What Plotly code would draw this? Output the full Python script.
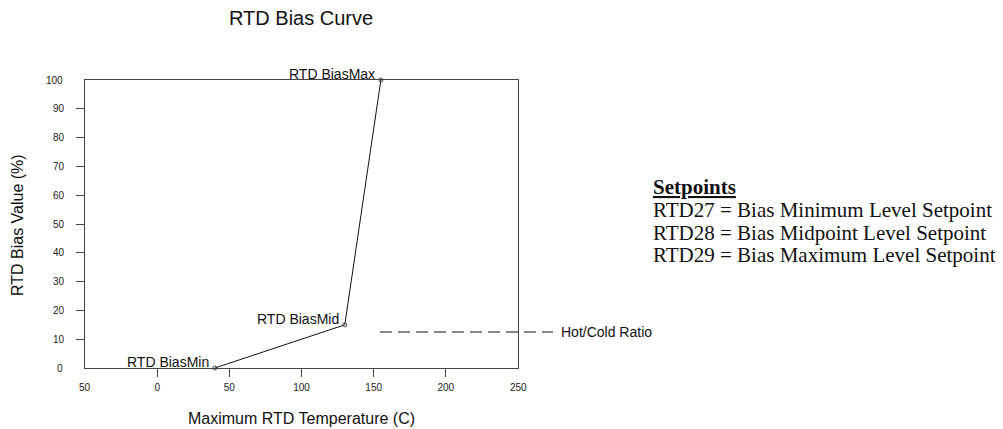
import plotly.graph_objects as go

# Data
temps = [40, 130, 155]
bias = [0, 15, 100]
point_labels = ["RTD BiasMin", "RTD BiasMid", "RTD BiasMax"]
hot_cold_ratio = 12.5
x_tickvals = [0, 50, 100, 150, 200]
x_ticktext = ["0", "50", "100", "150", "200"]
y_tickvals = [10, 20, 30, 40, 50, 60, 70, 80, 90]
setpoint_title = "Setpoints"
setpoint_lines = [
    "RTD27 = Bias Minimum Level Setpoint",
    "RTD28 = Bias Midpoint Level Setpoint",
    "RTD29 = Bias Maximum Level Setpoint",
]

OFF = 8  # default page body margin
W, H = 1003 - OFF, 429 - OFF
# plot area in page pixels
L, R, T, B = 85, 518, 80, 368

SANS = "Liberation Sans, Arial"
SERIF = "Liberation Serif, Times New Roman"

fig = go.Figure()
fig.add_trace(go.Scatter(
    x=temps, y=bias, mode="lines+markers",
    line=dict(color="#111", width=1),
    marker=dict(symbol="circle-open", size=4, color="#444", line=dict(width=1)),
    cliponaxis=False, showlegend=False,
))

def px_x(p):
    return (p - L) / (R - L)

def px_y(p):
    return (B - p) / (B - T)

annotations = []
# point labels
for xv, yv, lab in zip(temps, bias, point_labels):
    annotations.append(dict(x=xv, y=yv, xref="x", yref="y", text=lab, showarrow=False,
                            xanchor="right", yanchor="middle", xshift=-4, yshift=6,
                            font=dict(family=SANS, size=14, color="#111")))
# end tick labels without tick marks
for xv, txt in [(-50, "50"), (250, "250")]:
    annotations.append(dict(x=xv, y=0, xref="x", yref="paper", text=txt, showarrow=False,
                            xanchor="center", yanchor="middle", yshift=-19,
                            font=dict(family=SANS, size=10, color="#222")))
for yv, txt in [(0, "0"), (100, "100")]:
    annotations.append(dict(x=px_x(65), y=yv, xref="paper", yref="y", text=txt, showarrow=False,
                            xanchor="right", yanchor="middle",
                            font=dict(family=SANS, size=10, color="#222")))
# title
annotations.append(dict(x=px_x(301), y=px_y(18), xref="paper", yref="paper", text="RTD Bias Curve",
                        showarrow=False, xanchor="center", yanchor="middle",
                        font=dict(family=SANS, size=20, color="#111")))
# axis titles
annotations.append(dict(x=px_x(301), y=px_y(418), xref="paper", yref="paper",
                        text="Maximum RTD Temperature (C)", showarrow=False,
                        xanchor="center", yanchor="middle",
                        font=dict(family=SANS, size=16, color="#111")))
annotations.append(dict(x=px_x(17), y=px_y(225), xref="paper", yref="paper",
                        text="RTD Bias Value (%)", showarrow=False, textangle=-90,
                        xanchor="center", yanchor="middle",
                        font=dict(family=SANS, size=16, color="#111")))
# hot/cold label
annotations.append(dict(x=px_x(559), y=hot_cold_ratio, xref="paper", yref="y",
                        text="Hot/Cold Ratio", showarrow=False, xanchor="left", yanchor="middle",
                        font=dict(family=SANS, size=14, color="#111")))
# setpoints block
annotations.append(dict(x=px_x(651), y=px_y(187), xref="paper", yref="paper",
                        text="<b><u>" + setpoint_title + "</u></b>", showarrow=False,
                        xanchor="left", yanchor="middle",
                        font=dict(family=SERIF, size=21, color="#111")))
for i, line in enumerate(setpoint_lines):
    annotations.append(dict(x=px_x(651), y=px_y(210 + 22.5 * i), xref="paper", yref="paper",
                            text=line, showarrow=False, xanchor="left", yanchor="middle",
                            font=dict(family=SERIF, size=21, color="#111")))

shapes = [dict(type="line", xref="paper", yref="y", x0=px_x(380), x1=px_x(553),
               y0=hot_cold_ratio, y1=hot_cold_ratio,
               line=dict(color="#111", width=1, dash="12px,6px"))]

fig.update_layout(
    width=W, height=H,
    margin=dict(l=L - OFF, r=W - (R - OFF), t=T - OFF, b=H - (B - OFF), pad=0),
    plot_bgcolor="white", paper_bgcolor="white",
    annotations=annotations, shapes=shapes,
    xaxis=dict(range=[-50, 250], tickvals=x_tickvals, ticktext=x_ticktext,
               ticks="outside", ticklen=8, tickcolor="#444", showgrid=False, zeroline=False,
               showline=True, linecolor="#444", linewidth=1, mirror=True,
               ticklabelstandoff=2,
               tickfont=dict(family=SANS, size=10, color="#222")),
    yaxis=dict(range=[0, 100], tickvals=y_tickvals,
               ticks="outside", ticklen=8, tickcolor="#444", showgrid=False, zeroline=False,
               showline=True, linecolor="#444", linewidth=1, mirror=True,
               ticklabelstandoff=10,
               tickfont=dict(family=SANS, size=10, color="#222")),
)

fig.write_html("out.html")
